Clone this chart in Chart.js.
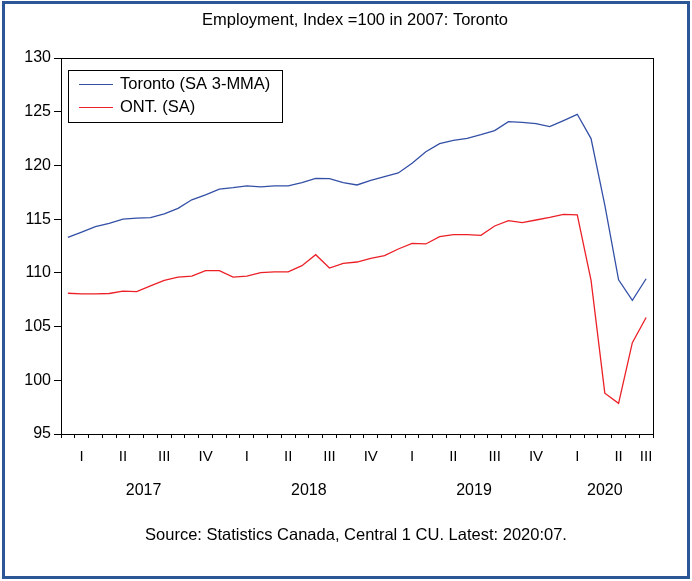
<!DOCTYPE html>
<html>
<head>
<meta charset="utf-8">
<script src="https://cdn.jsdelivr.net/npm/chart.js@4.4.1/dist/chart.umd.min.js"></script>
<style>
  html, body { margin: 0; padding: 0; background: #fff; }
  canvas { display: block; }
</style>
</head>
<body>
<canvas id="chart" width="692" height="581"></canvas>
<script>
// monthly, Jan 2017 .. Jul 2020
const years = ['2017', '2018', '2019', '2020'];
const quarterNames = ['I', 'II', 'III', 'IV'];
const months = [];
years.forEach(y => { for (let m = 1; m <= 12; m++) months.push(y + ':' + String(m).padStart(2, '0')); });
months.length = 43;

const toronto = [
    113.3, 113.8, 114.3, 114.6, 115.0, 115.1, 115.15, 115.5, 116.0, 116.8, 117.25, 117.8,
    117.93, 118.1, 118.0, 118.1, 118.1, 118.4, 118.8, 118.78, 118.4, 118.18, 118.6, 118.96,
    119.3, 120.2, 121.28, 122.03, 122.34, 122.52, 122.86, 123.24, 124.07, 124.0, 123.89, 123.61,
    124.17, 124.76, 122.5, 116.3, 109.35, 107.45, 109.45
];
const ontario = [
    108.1, 108.05, 108.05, 108.08, 108.3, 108.25, 108.78, 109.3, 109.6, 109.7, 110.2, 110.2,
    109.6, 109.7, 110.02, 110.1, 110.1, 110.67, 111.69, 110.45, 110.89, 111.01, 111.35, 111.6,
    112.22, 112.75, 112.69, 113.37, 113.56, 113.56, 113.49, 114.36, 114.86, 114.67, 114.92, 115.17,
    115.45, 115.39, 109.3, 98.8, 97.85, 103.5, 105.85
];

const FONT = "'Liberation Sans', Arial, sans-serif";

// quarter label sits in the middle of the months present in that quarter
const quarterAt = {};
for (let s = 0; s < months.length; s += 3) {
    const n = Math.min(3, months.length - s);
    quarterAt[s + Math.floor((n - 1) / 2)] = quarterNames[(s / 3) % 4];
}

const decor = {
    id: 'decor',
    beforeDraw(c) {
        const ctx = c.ctx;
        ctx.save();
        ctx.fillStyle = '#fff';
        ctx.fillRect(0, 0, c.width, c.height);
        ctx.restore();
    },
    afterDraw(c) {
        const { ctx, chartArea: a } = c;
        const xs = c.scales.x;
        ctx.save();
        // plot frame
        ctx.strokeStyle = '#000';
        ctx.lineWidth = 1;
        ctx.strokeRect(a.left + 0.5, a.top + 0.5, a.right - a.left, a.bottom - a.top);
        // outer border
        ctx.strokeStyle = '#2b5797';
        ctx.lineWidth = 3;
        ctx.strokeRect(3.5, 2.5, 685, 575);
        // title
        ctx.fillStyle = '#000';
        ctx.textAlign = 'center';
        ctx.textBaseline = 'middle';
        ctx.font = '16.5px ' + FONT;
        ctx.fillText('Employment, Index =100 in 2007: Toronto', 355, 20);
        // year labels
        ctx.font = '16px ' + FONT;
        years.forEach((y, i) => {
            const first = i * 12, last = Math.min(i * 12 + 11, months.length - 1);
            const x = (xs.getPixelForValue(first) + xs.getPixelForValue(last)) / 2;
            ctx.fillText(y, x, 491);
        });
        // source
        ctx.font = '16.5px ' + FONT;
        ctx.fillText('Source: Statistics Canada, Central 1 CU. Latest: 2020:07.', 356, 535);
        // legend
        ctx.strokeStyle = '#000';
        ctx.lineWidth = 1;
        ctx.strokeRect(68.5, 70.5, 214, 52);
        ctx.textAlign = 'left';
        c.data.datasets.forEach((ds, i) => {
            const y = 84 + i * 23;
            ctx.strokeStyle = ds.borderColor;
            ctx.lineWidth = 1.2;
            ctx.beginPath();
            ctx.moveTo(79, y + 0.5);
            ctx.lineTo(113, y + 0.5);
            ctx.stroke();
            ctx.fillStyle = '#000';
            ctx.fillText(ds.label, 120, y);
        });
        ctx.restore();
    }
};

new Chart(document.getElementById('chart'), {
    type: 'line',
    data: {
        labels: months,
        datasets: [
            { label: 'Toronto (SA 3-MMA)', data: toronto, borderColor: '#3450a6', borderWidth: 1.3, pointRadius: 0, tension: 0 },
            { label: 'ONT. (SA)', data: ontario, borderColor: '#ec2027', borderWidth: 1.3, pointRadius: 0, tension: 0 }
        ]
    },
    options: {
        responsive: false,
        animation: false,
        layout: { padding: { left: 0, top: 58, right: 39, bottom: 107 } },
        plugins: { legend: { display: false }, tooltip: { enabled: false } },
        scales: {
            x: {
                type: 'category',
                offset: true,
                grid: { drawOnChartArea: false, offset: true, tickLength: 4, color: '#000' },
                border: { color: '#000' },
                ticks: {
                    autoSkip: false, maxRotation: 0, padding: 10, color: '#000',
                    font: { family: FONT, size: 15 },
                    callback: (v, i) => quarterAt[i] || ''
                },
                afterFit: s => { s.height = 40; }
            },
            y: {
                min: 95, max: 130,
                grid: { drawOnChartArea: false, tickLength: 7, color: '#000' },
                border: { color: '#000' },
                ticks: { stepSize: 5, padding: 3, color: '#000', font: { family: FONT, size: 16 } },
                afterFit: s => { s.width = 61; }
            }
        }
    },
    plugins: [decor]
});
</script>
</body>
</html>
